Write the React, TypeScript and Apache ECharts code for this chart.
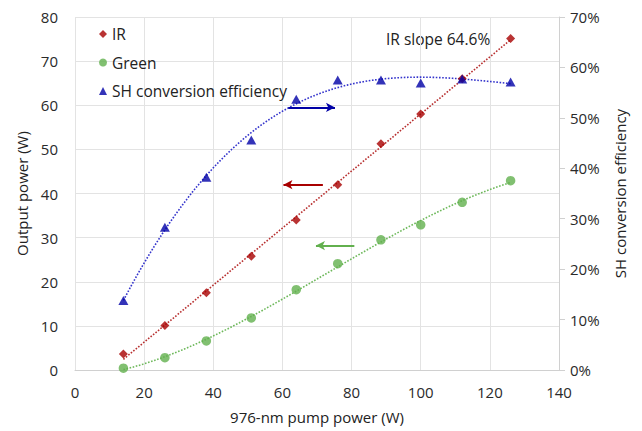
import React, { useEffect, useRef } from "react";
import * as echarts from "echarts";

const pumpPower = [14, 26, 38, 51, 64, 76, 88.5, 100, 112, 126];
const irPower = [3.6, 10.1, 17.5, 25.8, 34.0, 42.0, 51.3, 58.0, 66.0, 75.1];
const greenPower = [0.4, 2.8, 6.6, 11.8, 18.2, 24.1, 29.5, 32.9, 38.0, 42.9];
const shEfficiency = [0.138, 0.283, 0.382, 0.456, 0.537, 0.575, 0.575, 0.569, 0.577, 0.571];

const xTicks = { min: 0, max: 140, interval: 20 };
const leftTicks = { min: 0, max: 80, interval: 10 };
const rightTicks = { min: 0, max: 0.7, interval: 0.1 };

// annotation arrows: [x0, y0, x1, y1] in left-axis data units
const arrowBlue = [61.7, 59.5, 75.2, 59.5];
const arrowRed = [71.7, 42.0, 60.3, 42.0];
const arrowGreen = [80.8, 28.2, 69.7, 28.2];
const slopeLabel = "IR slope 64.6%";

const FONT = "'Open Sans', 'Noto Sans', sans-serif";
const C_IR = "#A80000";
const C_IR_LINE = "#B83030";
const C_GREEN = "#62B04E";
const C_GREEN_LINE = "#6DB85A";
const C_BLUE = "#0000A6";
const C_BLUE_LINE = "#3434CC";

function polyFit(xs: number[], ys: number[], order: number): number[] {
  const n = order + 1;
  const A: number[][] = [];
  for (let i = 0; i < n; i++) {
    A.push(new Array(n + 1).fill(0));
  }
  for (let k = 0; k < xs.length; k++) {
    for (let i = 0; i < n; i++) {
      for (let j = 0; j < n; j++) A[i][j] += Math.pow(xs[k], i + j);
      A[i][n] += ys[k] * Math.pow(xs[k], i);
    }
  }
  for (let i = 0; i < n; i++) {
    let p = i;
    for (let r = i + 1; r < n; r++) if (Math.abs(A[r][i]) > Math.abs(A[p][i])) p = r;
    [A[i], A[p]] = [A[p], A[i]];
    for (let r = 0; r < n; r++) {
      if (r === i) continue;
      const f = A[r][i] / A[i][i];
      for (let c = i; c <= n; c++) A[r][c] -= f * A[i][c];
    }
  }
  return A.map((row, i) => row[n] / row[i]);
}

function trend(xs: number[], ys: number[], order: number): number[][] {
  const coef = polyFit(xs, ys, order);
  const x0 = xs[0];
  const x1 = xs[xs.length - 1];
  const pts: number[][] = [];
  const steps = 100;
  for (let s = 0; s <= steps; s++) {
    const x = x0 + ((x1 - x0) * s) / steps;
    let y = 0;
    for (let i = 0; i < coef.length; i++) y += coef[i] * Math.pow(x, i);
    pts.push([x, y]);
  }
  return pts;
}

function arrowItem(a: number[], color: string) {
  return [
    { coord: [a[0], a[1]], lineStyle: { color, width: 2, type: "solid" } },
    { coord: [a[2], a[3]] },
  ];
}

export default function App() {
  const ref = useRef<HTMLDivElement>(null);
  useEffect(() => {
    if (!ref.current) return;
    const chart = echarts.init(ref.current, undefined, { renderer: "svg" });
    const zip = (ys: number[]) => pumpPower.map((x, i) => [x, ys[i]]);
    const axisLabel = { fontFamily: FONT, fontSize: 15, color: "#2a2a2a" };
    const nameStyle = { fontFamily: FONT, fontSize: 15, color: "#222" };
    chart.setOption({
      animation: false,
      backgroundColor: "#fff",
      grid: { left: 75, right: 83, top: 17, bottom: 61, containLabel: false },
      legend: {
        orient: "vertical",
        left: 94,
        top: 21,
        itemWidth: 8,
        itemHeight: 8,
        itemGap: 12.5,
        textStyle: { fontFamily: FONT, fontSize: 15.5, color: "#222", lineHeight: 16 },
        data: [
          { name: "IR", icon: "diamond", itemStyle: { color: C_IR } },
          { name: "Green", icon: "circle", itemStyle: { color: C_GREEN } },
          { name: "SH conversion efficiency", icon: "triangle", itemStyle: { color: C_BLUE } },
        ],
      },
      xAxis: {
        type: "value",
        ...xTicks,
        name: "976-nm pump power (W)",
        nameLocation: "middle",
        nameGap: 39,
        nameTextStyle: nameStyle,
        axisLine: { show: true, lineStyle: { color: "#d0d0d0", width: 1 } },
        axisTick: { show: false },
        axisLabel: { ...axisLabel, margin: 14 },
        splitLine: { show: true, lineStyle: { color: "#e3e3e3", width: 1 } },
      },
      yAxis: [
        {
          type: "value",
          ...leftTicks,
          name: "Output power (W)",
          nameLocation: "middle",
          nameGap: 46,
          nameTextStyle: nameStyle,
          axisLine: { show: false },
          axisTick: { show: false },
          axisLabel: { ...axisLabel, margin: 17 },
          splitLine: { show: true, lineStyle: { color: "#e3e3e3", width: 1 } },
        },
        {
          type: "value",
          position: "right",
          ...rightTicks,
          name: "SH conversion efficiency",
          nameLocation: "middle",
          nameRotate: 90,
          nameGap: 53,
          nameTextStyle: nameStyle,
          axisLine: { show: true, lineStyle: { color: "#d0d0d0", width: 1 } },
          axisTick: { show: true, length: 6, lineStyle: { color: "#d0d0d0" } },
          axisLabel: {
            ...axisLabel,
            margin: 11,
            formatter: (v: number) => Math.round(v * 100) + "%",
          },
          splitLine: { show: false },
        },
      ],
      graphic: [
        {
          type: "text",
          left: 386,
          top: 31,
          style: { text: slopeLabel, font: `15.5px ${FONT}`, fill: "#222" },
        },
      ],
      series: [
        {
          name: "IR trend",
          type: "line",
          data: trend(pumpPower, irPower, 1),
          showSymbol: false,
          symbol: "none",
          silent: true,
          lineStyle: { color: C_IR_LINE, width: 1.6, type: "dotted" },
          z: 1,
        },
        {
          name: "Green trend",
          type: "line",
          data: trend(pumpPower, greenPower, 3),
          showSymbol: false,
          symbol: "none",
          silent: true,
          lineStyle: { color: C_GREEN_LINE, width: 1.6, type: "dotted" },
          z: 1,
        },
        {
          name: "SH trend",
          type: "line",
          yAxisIndex: 1,
          data: trend(pumpPower, shEfficiency, 3),
          showSymbol: false,
          symbol: "none",
          silent: true,
          lineStyle: { color: C_BLUE_LINE, width: 1.6, type: "dotted" },
          z: 1,
        },
        {
          name: "IR",
          type: "scatter",
          symbol: "diamond",
          symbolSize: 9,
          itemStyle: { color: C_IR },
          data: zip(irPower),
          z: 3,
        },
        {
          name: "Green",
          type: "scatter",
          symbol: "circle",
          symbolSize: 9.5,
          itemStyle: { color: C_GREEN },
          data: zip(greenPower),
          z: 3,
        },
        {
          name: "SH conversion efficiency",
          type: "scatter",
          symbol: "triangle",
          symbolSize: [10, 9],
          yAxisIndex: 1,
          itemStyle: { color: C_BLUE },
          data: zip(shEfficiency),
          z: 3,
        },
        {
          name: "arrows",
          type: "line",
          data: [],
          silent: true,
          markLine: {
            silent: true,
            symbol: ["none", "arrow"],
            symbolSize: [7, 9],
            label: { show: false },
            data: [
              arrowItem(arrowBlue, C_BLUE),
              arrowItem(arrowRed, C_IR),
              arrowItem(arrowGreen, C_GREEN),
            ],
          },
        },
      ],
    });
    return () => chart.dispose();
  }, []);
  return (
    <div
      ref={ref}
      style={{ position: "fixed", left: 0, top: 0, width: 642, height: 431 }}
    />
  );
}
